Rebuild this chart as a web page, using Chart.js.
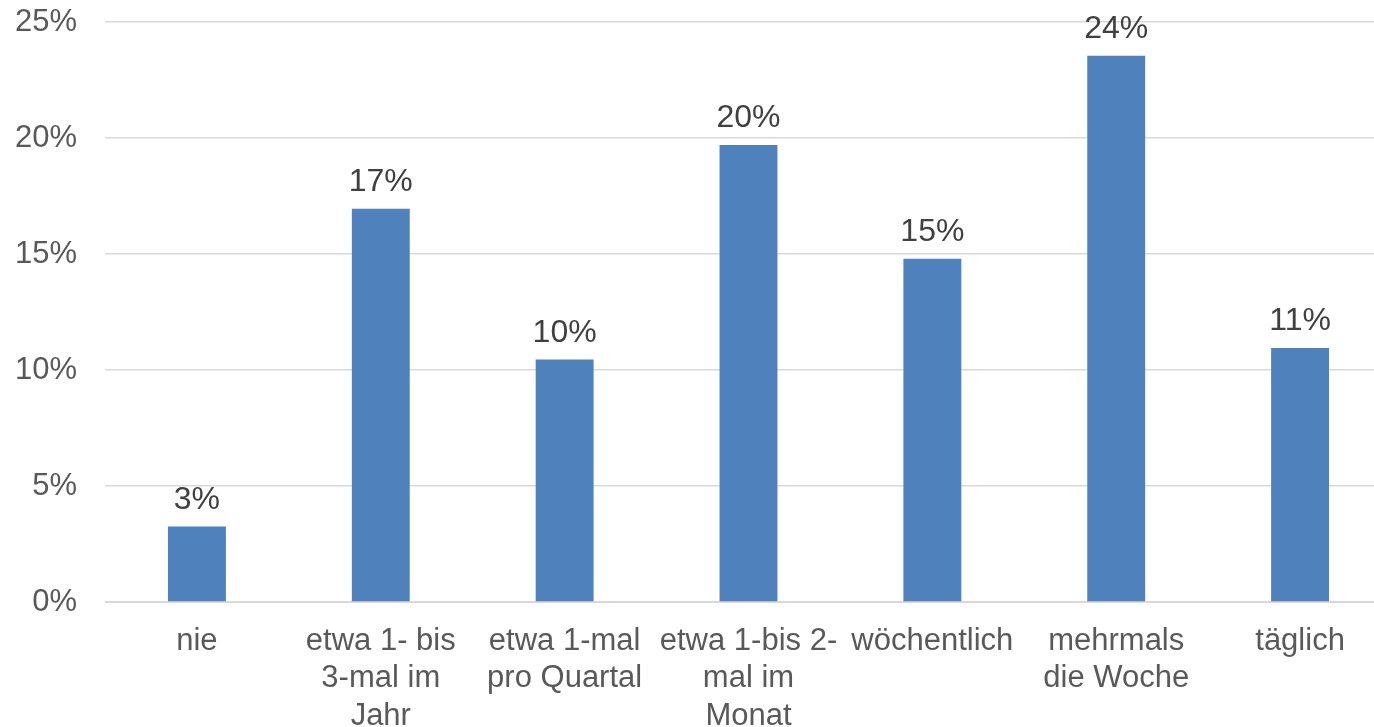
<!DOCTYPE html>
<html>
<head>
<meta charset="utf-8">
<script src="https://cdn.jsdelivr.net/npm/chart.js@4/dist/chart.umd.min.js"></script>
<style>
    html, body { margin: 0; padding: 0; background: #fff; overflow: hidden; }
    #wrap { width: 1374px; height: 727px; overflow: hidden; position: relative; }
    #box { width: 1400px; height: 727px; position: absolute; left: 0; top: 0; }
</style>
</head>
<body>
<div id="wrap"><div id="box"><canvas id="bar-chart"></canvas></div></div>
<script>
// categories (multi-line, as in the original)
var categories = [
    ["nie"],
    ["etwa 1- bis", "3-mal im", "Jahr"],
    ["etwa 1-mal", "pro Quartal"],
    ["etwa 1-bis 2-", "mal im", "Monat"],
    ["wöchentlich"],
    ["mehrmals", "die Woche"],
    ["täglich"]
];
// share in percent
var values = [3.25, 16.95, 10.45, 19.7, 14.8, 23.55, 10.95];
var yTicks = [0, 5, 10, 15, 20, 25];

var barColor = "#4F81BD";
var textColor = "#595959";
var fontFamily = "'Liberation Sans', Arial, sans-serif";

// small plugin for the value labels above the bars
var valueLabels = {
    id: 'valueLabels',
    afterDatasetsDraw: function(chart) {
        var ctx = chart.ctx;
        var meta = chart.getDatasetMeta(0);
        ctx.save();
        ctx.font = "32px " + fontFamily;
        ctx.fillStyle = "#404040";
        ctx.textAlign = "center";
        ctx.textBaseline = "alphabetic";
        meta.data.forEach(function(bar, i) {
            var txt = Math.round(chart.data.datasets[0].data[i]) + "%";
            ctx.fillText(txt, bar.x, bar.y - 18);
        });
        ctx.restore();
    }
};

new Chart(document.getElementById("bar-chart"), {
    type: 'bar',
    data: {
        labels: categories,
        datasets: [{
            data: values,
            backgroundColor: barColor,
            borderWidth: 0,
            barPercentage: 1,
            categoryPercentage: 0.315
        }]
    },
    options: {
        responsive: true,
        maintainAspectRatio: false,
        animation: false,
        layout: { padding: { top: 22, right: 8, left: 0, bottom: 0 } },
        plugins: {
            legend: { display: false },
            tooltip: { enabled: false }
        },
        scales: {
            x: {
                grid: { display: false, drawTicks: false },
                border: { display: true, color: "#D9D9D9", width: 1 },
                ticks: {
                    color: textColor,
                    font: { family: fontFamily, size: 31, lineHeight: 1.2 },
                    padding: 21,
                    maxRotation: 0,
                    autoSkip: false
                },
                afterFit: function(scale) {
                    scale.height = 125;
                    scale.paddingLeft = 0;
                    scale.paddingRight = 0;
                }
            },
            y: {
                min: 0,
                max: 25,
                afterBuildTicks: function(scale) {
                    scale.ticks = yTicks.map(function(v) { return { value: v }; });
                },
                grid: { color: "#D9D9D9", lineWidth: 1.5, drawTicks: false },
                border: { display: false },
                ticks: {
                    color: textColor,
                    font: { family: fontFamily, size: 31 },
                    padding: 28,
                    callback: function(v) { return v + "%"; }
                },
                afterFit: function(scale) {
                    scale.width = 105;
                    scale.paddingTop = 0;
                    scale.paddingBottom = 0;
                }
            }
        }
    },
    plugins: [valueLabels]
});
</script>
</body>
</html>
